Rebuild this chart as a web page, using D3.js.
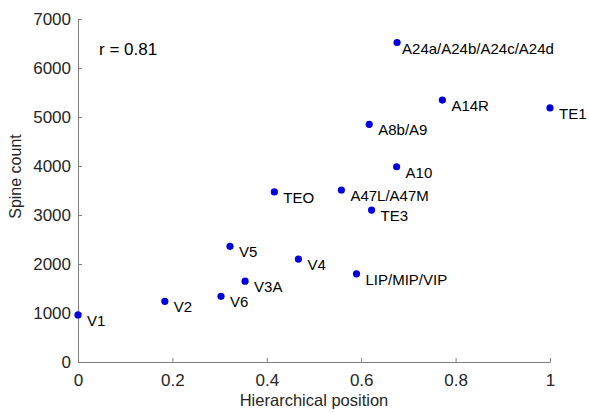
<!DOCTYPE html>
<html>
<head>
<meta charset="utf-8">
<script src="https://cdn.jsdelivr.net/npm/d3@7"></script>
<style>
  body { margin: 0; background: #fff; }
  text { font-family: "Liberation Sans", Arial, sans-serif; }
</style>
</head>
<body>
<div id="plotDiv"></div>
<script>
// --- Data ---
const areas = ["V1", "V2", "V6", "V3A", "V5", "V4", "LIP/MIP/VIP", "TEO", "A47L/A47M",
  "TE3", "A10", "A8b/A9", "A14R", "TE1", "A24a/A24b/A24c/A24d"];
const hierarchy = [0, 0.184, 0.303, 0.354, 0.322, 0.467, 0.590, 0.416, 0.558,
  0.622, 0.675, 0.617, 0.772, 1.0, 0.676];
const spines = [960, 1238, 1340, 1650, 2360, 2100, 1800, 3470, 3510,
  3100, 3985, 4850, 5345, 5185, 6520];
const xTicks = [0, 0.2, 0.4, 0.6, 0.8, 1];
const yTicks = [0, 1000, 2000, 3000, 4000, 5000, 6000, 7000];
const corrLabel = "r = 0.81";

const points = areas.map((name, i) => ({name: name, x: hierarchy[i], y: spines[i]}));

// --- Definitions ---
const margin = {top: 19, right: 39, bottom: 51, left: 78};
const width = 589 - margin.left - margin.right;
const height = 413 - margin.top - margin.bottom;
const axisColor = "#7f7f7f";

const svg = d3.select("#plotDiv")
  .append("svg")
  .attr("width", 589)
  .attr("height", 413)
  .append("g")
  .attr("transform", `translate(${margin.left}, ${margin.top})`);

const x = d3.scaleLinear().domain([0, 1]).range([0, width]);
const y = d3.scaleLinear().domain([0, 7000]).range([height, 0]);

// --- Axes (MATLAB style: ticks pointing inward, no box) ---
const xAxis = svg.append("g")
  .attr("transform", `translate(0, ${height})`)
  .call(d3.axisBottom(x).tickValues(xTicks).tickFormat(d3.format("~g"))
    .tickSizeInner(-4).tickSizeOuter(0).tickPadding(12));

const yAxis = svg.append("g")
  .call(d3.axisLeft(y).tickValues(yTicks).tickFormat(d3.format("d"))
    .tickSizeInner(-4).tickSizeOuter(0).tickPadding(7));

[xAxis, yAxis].forEach(ax => {
  ax.select(".domain").attr("stroke", axisColor);
  ax.selectAll(".tick line").attr("stroke", axisColor);
  ax.selectAll(".tick text")
    .attr("fill", "#262626")
    .attr("font-size", "17px")
    .attr("font-family", "'Liberation Sans', Arial, sans-serif");
});

// --- Axis titles ---
svg.append("text")
  .attr("x", width / 2)
  .attr("y", height + 44)
  .attr("text-anchor", "middle")
  .attr("font-size", "16.5px")
  .attr("fill", "#262626")
  .text("Hierarchical position");

svg.append("text")
  .attr("transform", `translate(${-57}, ${height / 2 - 14}) rotate(-90)`)
  .attr("text-anchor", "middle")
  .attr("font-size", "16px")
  .attr("fill", "#262626")
  .text("Spine count");

// --- Correlation note ---
svg.append("text")
  .attr("x", 21)
  .attr("y", 36)
  .attr("font-size", "17px")
  .attr("fill", "#000")
  .text(corrLabel);

// --- Points ---
svg.append("g").selectAll("circle")
  .data(points)
  .join("circle")
  .attr("cx", d => x(d.x))
  .attr("cy", d => y(d.y))
  .attr("r", 3.6)
  .attr("fill", "#0000dd");

// --- Labels ---
svg.append("g").selectAll("text")
  .data(points)
  .join("text")
  .attr("x", d => x(d.x) + (d.name.startsWith("A24") ? 5 : 9))
  .attr("y", d => y(d.y) + 11)
  .attr("font-size", "15px")
  .attr("fill", "#000")
  .text(d => d.name);
</script>
</body>
</html>
